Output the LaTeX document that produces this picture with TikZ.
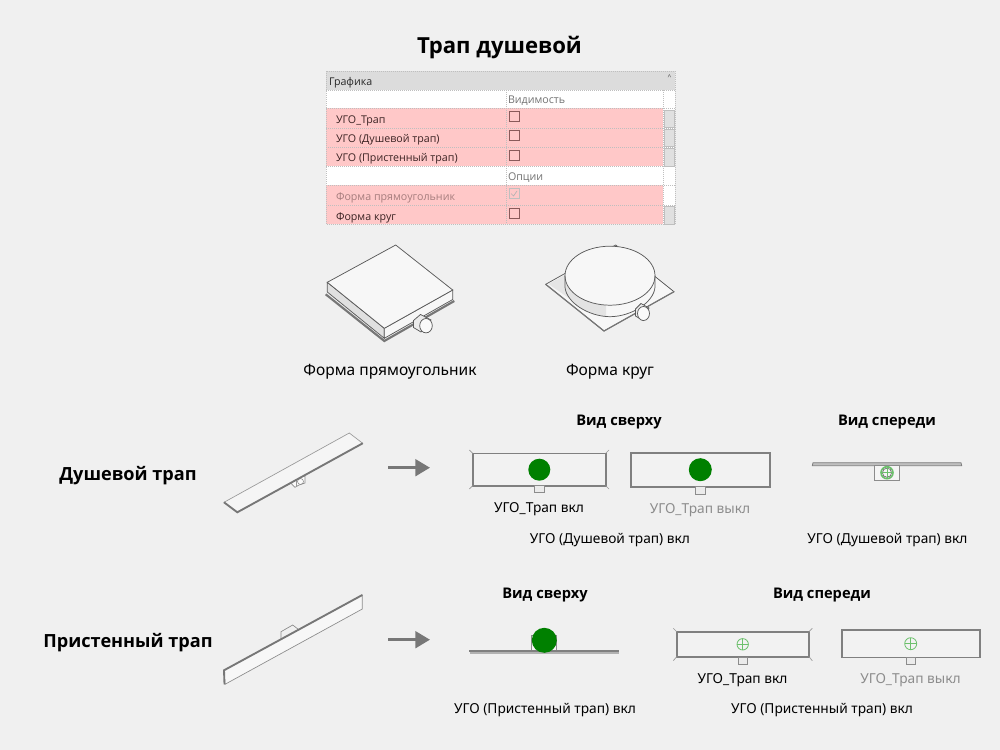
\documentclass[tikz,border=0pt]{standalone}
\usepackage{fontspec}
\setmainfont{Noto Sans}
\newfontfamily\tablefont{Open Sans}
\newfontfamily\headfont{Open Sans}
\usetikzlibrary{arrows.meta}

\definecolor{pagebg}{HTML}{F0F0F0}
\definecolor{rowpink}{HTML}{FFC8C8}
\definecolor{headgrey}{HTML}{DCDCDC}
\definecolor{edgegrey}{HTML}{777777}
\definecolor{symgreen}{HTML}{008000}
\definecolor{thingreen}{HTML}{6CC06C}
\definecolor{rowink}{HTML}{3A2222}
\definecolor{boxink}{HTML}{8A5A5A}

\tikzset{every picture/.style={line width=0.75pt}}
\tikzset{
  titletext/.style={anchor=center,inner sep=0.75pt,font=\headfont\fontsize{16.6}{20}\selectfont\bfseries},
  headtext/.style={anchor=center,inner sep=0.75pt,font=\headfont\fontsize{13.6}{17}\selectfont\bfseries},
  viewtext/.style={anchor=center,inner sep=0.75pt,font=\headfont\fontsize{11}{14}\selectfont\bfseries},
  shapetext/.style={anchor=center,inner sep=0.75pt,font=\fontsize{11.65}{14}\selectfont},
  ugotext/.style={anchor=center,inner sep=0.75pt,font=\fontsize{10.3}{12}\selectfont},
  offtext/.style={ugotext,text=black!45},
  rowtext/.style={anchor=west,inner sep=0.75pt,font=\tablefont\fontsize{8}{10}\selectfont,text=rowink},
  grouptext/.style={anchor=west,inner sep=0.75pt,font=\tablefont\fontsize{8}{10}\selectfont,text=black!55},
  tablerule/.style={draw=black!25,densely dotted,line width=0.5pt},
  checkbox/.style={draw=boxink,line width=0.6pt,fill=rowpink},
  scrollcell/.style={draw=black!25,fill=black!12,line width=0.4pt},
  planbox/.style={draw=black!50,line width=1.2pt,fill=black!5},
  stubbox/.style={draw=black!45,line width=0.6pt,fill=black!8},
  planmark/.style={draw=black!40,line width=0.5pt},
  solidline/.style={draw=black!65,line width=0.55pt},
  flowarrow/.style={draw=edgegrey,line width=2.2pt,-{Triangle[length=11pt,width=12.5pt]}},
}

\begin{document}
\begin{tikzpicture}[x=0.75pt,y=0.75pt,yscale=-1,xscale=1]
    %Shape: Page background
    \fill[pagebg] (0,0) rectangle (1000,750);
    \useasboundingbox (0,0) rectangle (1000,750);

    % Text Node
    \draw (499.5,47.5) node (title) [titletext] {Трап душевой};

    %Shape: Properties table
    \fill[headgrey] (326,71) rectangle (675,90);
    \fill[white] (326,90) rectangle (675,224);
    \fill[rowpink] (326,108) rectangle (663,166);
    \fill[rowpink] (326,185) rectangle (663,224);
    \draw[scrollcell] (664,110) rectangle (674,127);
    \draw[scrollcell] (664,129) rectangle (674,146);
    \draw[scrollcell] (664,148) rectangle (674,166);
    \draw[scrollcell] (664,206) rectangle (674,224);
    \draw[tablerule] (326,71) rectangle (675,224);
    \draw[tablerule] (326,90) -- (675,90);
    \draw[tablerule] (326,108) -- (675,108);
    \draw[tablerule] (326,128) -- (675,128);
    \draw[tablerule] (326,147) -- (675,147);
    \draw[tablerule] (326,166) -- (675,166);
    \draw[tablerule] (326,185) -- (675,185);
    \draw[tablerule] (326,205) -- (675,205);
    \draw[tablerule] (506,90) -- (506,224);
    \draw[tablerule] (663,90) -- (663,224);
    \draw[checkbox] (509,111.5) rectangle (519,121.5);
    \draw[checkbox] (509,130.5) rectangle (519,140.5);
    \draw[checkbox] (509,150) rectangle (519,160);
    \draw[checkbox] (509,208) rectangle (519,218);
    \draw[draw=black!25,fill=rowpink,line width=0.5pt] (509,188.5) rectangle (519,198.5);
    \draw[draw=black!30,line width=0.5pt] (511,193.5) -- (513.5,196) -- (517,191);

    % Text Node
    \draw (327.5,83) node (tablehead) [rowtext,text=black!85] {Графика};
    % Text Node
    \draw (669.5,77) node (foldmark) [anchor=center,inner sep=0pt,font=\fontsize{5}{5}\selectfont\bfseries,text=black!70] {\^{}};
    % Text Node
    \draw (506.5,101) node (groupvis) [grouptext] {Видимость};
    % Text Node
    \draw (334.5,120.5) node (rowugo) [rowtext] {УГО\_Трап};
    % Text Node
    \draw (334.5,139.5) node (rowshower) [rowtext] {УГО (Душевой трап)};
    % Text Node
    \draw (334.5,159) node (rowwall) [rowtext] {УГО (Пристенный трап)};
    % Text Node
    \draw (506.5,178) node (groupopt) [grouptext] {Опции};
    % Text Node
    \draw (334.5,198) node (rowrect) [rowtext,opacity=0.45] {Форма прямоугольник};
    % Text Node
    \draw (334.5,217.5) node (rowround) [rowtext] {Форма круг};

    %Shape: Rectangular drain
    \draw[edgegrey,line width=1.6pt] (325.7,294.3) -- (384.3,341) -- (454.3,301);
    \draw[solidline,fill=black!12] (327.3,282.3) -- (384.3,328.3) -- (384.3,338.3) -- (327.3,292) -- cycle;
    \draw[solidline,fill=black!3] (384.3,328.3) -- (452.7,290) -- (452.7,299.5) -- (384.3,338.3) -- cycle;
    \draw[solidline,fill=black!3] (327.3,282.3) -- (395.7,245) -- (452.7,290) -- (384.3,328.3) -- cycle;
    %Shape: Rectangular drain outlet
    \draw[solidline,fill=black!8] (413.5,320.5) -- (420.5,314.5) -- (431,320) -- (421,332) -- (413.5,327.5) -- cycle;
    \draw[solidline,fill=black!2] (426,325.7) circle [x radius=6.3,y radius=7.2];

    %Shape: Round drain plate
    \draw[solidline,fill=black!3] (545.7,284.3) -- (615.7,245) -- (674,291.7) -- (604,331) -- cycle;
    \fill[black!10] (548.5,284) -- (565.5,274.5) -- (566,292) -- (573,301) -- cycle;
    \draw[edgegrey,line width=0.9pt] (545.7,284.3) -- (604,331) -- (674,291.7);
    %Shape: Round drain body
    \path[fill=black!3] (565,275.7) -- (565,287) .. controls (566,302) and (588,316.5) .. (610,316.7) .. controls (632,316.5) and (654,302) .. (655,287) -- (655,275.7) -- cycle;
    \fill[black!11] (565,276) -- (565,287) .. controls (566,300) and (585,315) .. (606,316.5) -- (606,305) .. controls (585,304) and (566,290) .. (565,276) -- cycle;
    \draw[solidline,fill=black!3] (610,275.7) circle [x radius=45,y radius=29.5];
    \draw[solidline] (565,275.7) -- (565,287) .. controls (566,302) and (588,316.5) .. (610,316.7) .. controls (632,316.5) and (654,302) .. (655,287) -- (655,275.7);
    %Shape: Round drain outlet
    \draw[solidline,fill=black!8] (635.5,309) -- (641,303.5) -- (649,308) -- (643,320.5) -- (635.5,316) -- cycle;
    \draw[solidline,fill=black!2] (643.5,313.5) circle [x radius=6,y radius=7];

    % Text Node
    \draw (390,372) node (captionrect) [shapetext] {Форма прямоугольник};
    % Text Node
    \draw (610,372) node (captionround) [shapetext] {Форма круг};

    % Text Node
    \draw (128,476) node (showerhead) [headtext] {Душевой трап};
    % Text Node
    \draw (128,643) node (wallhead) [headtext] {Пристенный трап};

    %Shape: Shower strip
    \draw[draw=black!45,line width=0.5pt,fill=black!2] (291.7,478) -- (291.7,484) -- (295,487.3) -- (299,485) -- (305,483) -- (305,476) -- cycle;
    \draw[draw=black!45,line width=0.4pt] (300.5,481.5) circle [radius=3];
    \draw[draw=black!40,line width=0.5pt] (296,479) -- (296,487);
    \draw[draw=black!40,line width=0.5pt,fill=black!4] (224,502.3) -- (349.3,433) -- (362.7,443.3) -- (237.3,512.3) -- cycle;
    \draw[edgegrey,line width=1.4pt] (224,502.3) -- (237.3,512.3) -- (362.7,443.3);

    %Straight Lines
    \coordinate (showerfrom) at (388.3,467.7);
    \coordinate (showerto) at (430,467.7);
    \draw[flowarrow] (showerfrom) -- (showerto);

    % Text Node
    \draw (619,422) node (showertop) [viewtext] {Вид сверху};
    % Text Node
    \draw (887,422) node (showerfront) [viewtext] {Вид спереди};

    %Shape: Shower plan on
    \draw[planbox] (472.7,453.3) rectangle (605.7,485.7);
    \draw[planmark] (472.7,453.3) -- (469.3,450);
    \draw[planmark] (605.7,453.3) -- (609,450);
    \draw[planmark] (472.7,485.7) -- (469.3,489);
    \draw[planmark] (605.7,485.7) -- (609,489);
    \draw[stubbox] (534,485.7) rectangle (544,492.7);
    \fill[symgreen] (539.3,469.7) circle [radius=11];

    %Shape: Shower plan off
    \draw[planbox] (630.7,452.7) rectangle (770,486.7);
    \draw[stubbox] (695.3,486.7) rectangle (705.7,494);
    \fill[symgreen] (700.3,469.7) circle [radius=11.5];

    %Shape: Shower front view
    \draw[draw=black!50,line width=0.6pt,fill=black!25] (812.3,465.7) -- (813,462.7) -- (961,462.7) -- (961.7,465.7) -- cycle;
    \draw[stubbox,fill=black!4] (874.3,465.7) rectangle (899.3,480.7);
    \draw[thingreen,line width=1.2pt] (887,472.7) circle [radius=6];
    \draw[black!60,line width=0.5pt] (887,472.7) circle [radius=4.6];
    \draw[thingreen,line width=0.5pt] (881,472.7) -- (893,472.7);
    \draw[thingreen,line width=0.5pt] (887,466.7) -- (887,478.7);

    % Text Node
    \draw (539,509.5) node (ugoonone) [ugotext] {УГО\_Трап вкл};
    % Text Node
    \draw (700,510.5) node (ugooffone) [offtext] {УГО\_Трап выкл};
    % Text Node
    \draw (610,540.5) node (showerugoa) [ugotext] {УГО (Душевой трап) вкл};
    % Text Node
    \draw (887.5,540.5) node (showerugob) [ugotext] {УГО (Душевой трап) вкл};

    %Shape: Wall strip
    \draw[draw=black!45,line width=0.5pt,fill=black!6] (281,631.7) -- (292.7,625) -- (298.3,629.3) -- (298.3,632) -- (285,640) -- (281,638.3) -- cycle;
    \draw[draw=black!45,line width=0.5pt,fill=black!3] (224,670.3) -- (362.3,595) -- (362.3,609) -- (225,684.3) -- cycle;
    \draw[edgegrey,line width=1.4pt] (224.5,684.3) -- (224,670.3) -- (362.3,595);

    %Straight Lines
    \coordinate (wallfrom) at (388.3,639.7);
    \coordinate (wallto) at (430,639.7);
    \draw[flowarrow] (wallfrom) -- (wallto);

    % Text Node
    \draw (545,595) node (walltop) [viewtext] {Вид сверху};
    % Text Node
    \draw (822,595) node (wallfront) [viewtext] {Вид спереди};

    %Shape: Wall plan view
    \draw[stubbox,fill=black!4] (531.7,635) rectangle (556.7,650);
    \fill[black!30] (470,651.5) rectangle (619,654);
    \fill[black!50] (469.3,650) rectangle (619.3,652);
    \fill[symgreen] (544.3,640.3) circle [radius=12.5];

    %Shape: Wall front on
    \draw[planbox] (676.7,631.7) rectangle (809,656.7);
    \draw[planmark] (676.7,631.7) -- (673.3,628.3);
    \draw[planmark] (809,631.7) -- (812.3,628.3);
    \draw[planmark] (676.7,656.7) -- (673.3,660.7);
    \draw[planmark] (809,656.7) -- (812.3,660.7);
    \draw[stubbox] (738.3,657.3) rectangle (747.3,664.7);
    \draw[thingreen,line width=0.6pt] (742.7,644.3) circle [radius=5.7];
    \draw[thingreen,line width=0.5pt] (737,644.3) -- (748.4,644.3);
    \draw[thingreen,line width=0.5pt] (742.7,638.6) -- (742.7,650);

    %Shape: Wall front off
    \draw[planbox] (841.7,630) rectangle (980,657.3);
    \draw[stubbox] (906.7,657.3) rectangle (915.7,664.7);
    \draw[thingreen,line width=0.6pt] (910.7,643.7) circle [radius=6];
    \draw[thingreen,line width=0.5pt] (904.7,643.7) -- (916.7,643.7);
    \draw[thingreen,line width=0.5pt] (910.7,637.7) -- (910.7,649.7);

    % Text Node
    \draw (742.5,680.5) node (ugoontwo) [ugotext] {УГО\_Трап вкл};
    % Text Node
    \draw (910.5,680.5) node (ugoofftwo) [offtext] {УГО\_Трап выкл};
    % Text Node
    \draw (545,710.5) node (wallugoa) [ugotext] {УГО (Пристенный трап) вкл};
    % Text Node
    \draw (822,710.5) node (wallugob) [ugotext] {УГО (Пристенный трап) вкл};

\end{tikzpicture}
\end{document}
